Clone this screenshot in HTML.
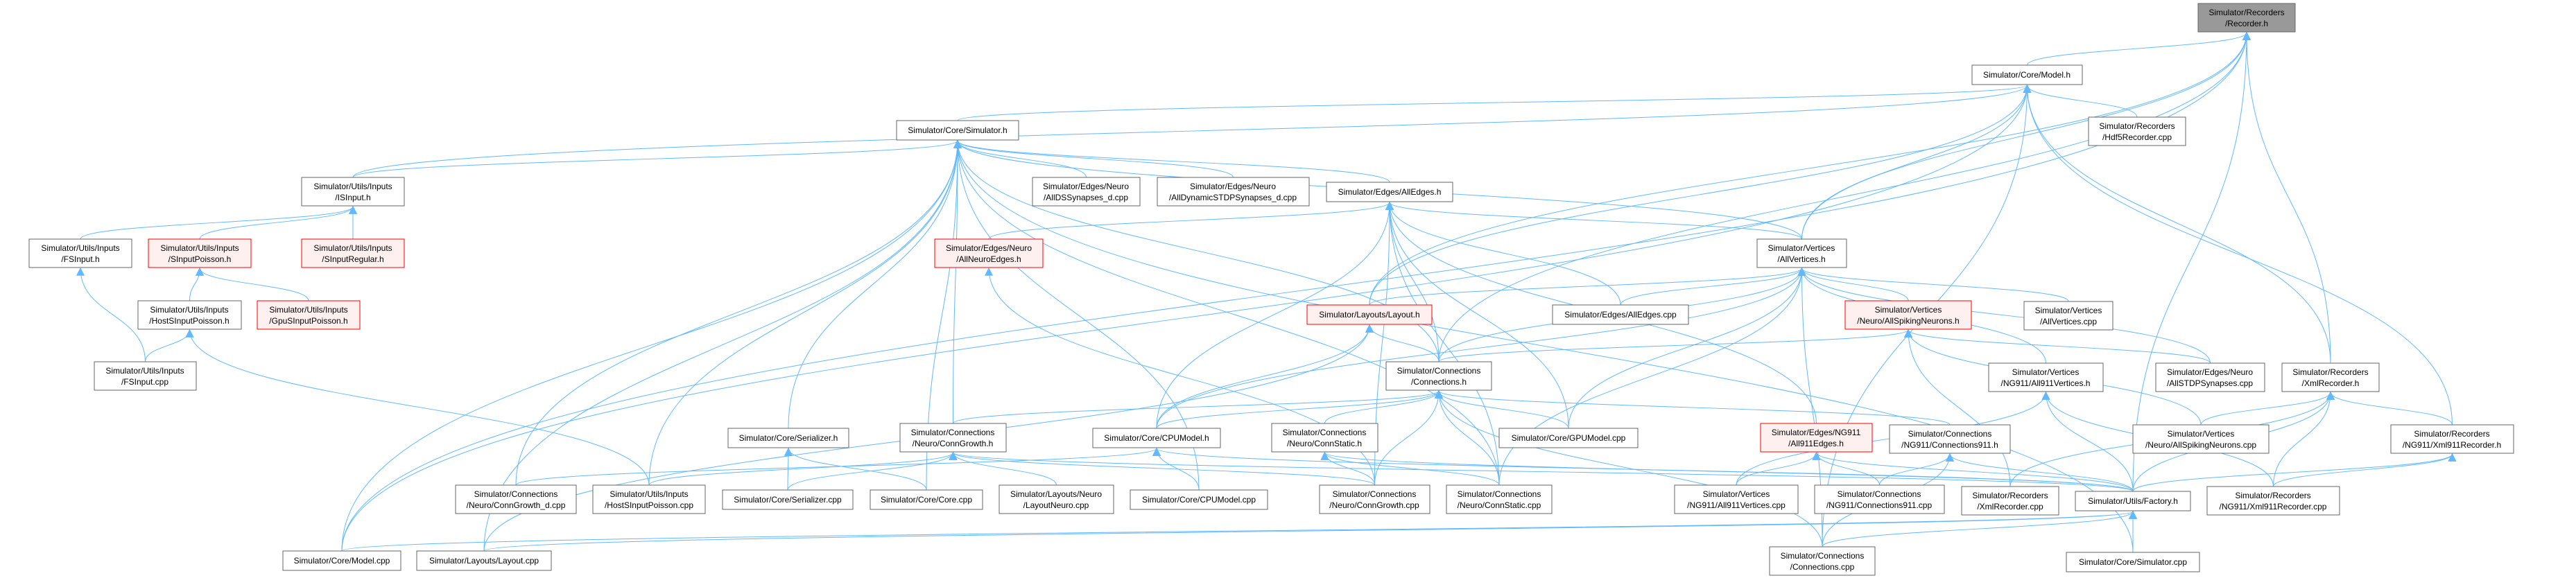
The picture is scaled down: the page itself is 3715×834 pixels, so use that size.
<!DOCTYPE html>
<html><head><meta charset="utf-8"><style>
html,body{margin:0;padding:0;background:#fff;}
svg{display:block;}
text{font-family:"Liberation Sans",Arial,sans-serif;font-size:12px;fill:#000;}
</style></head><body>
<svg id="g" width="3715" height="834" viewBox="0 0 3715 834" xmlns="http://www.w3.org/2000/svg">
<defs><marker id="ah" viewBox="0 0 10 10" refX="9" refY="5" markerWidth="12" markerHeight="12" markerUnits="userSpaceOnUse" orient="auto"><path d="M0,0 L10,5 L0,10 z" fill="#63b8ff"/></marker></defs>
<g id="edges" fill="none" stroke="#63b8ff" stroke-width="1"></g>
<g id="nodes">
<rect x="3170" y="5" width="140" height="41" fill="#999" stroke="#666"/><text x="3240" y="22" text-anchor="middle">Simulator/Recorders</text><text x="3240" y="38" text-anchor="middle">/Recorder.h</text>
<rect x="2844" y="94" width="159" height="28" fill="#fff" stroke="#666"/><text x="2923" y="112" text-anchor="middle">Simulator/Core/Model.h</text>
<rect x="3012" y="169" width="140" height="41" fill="#fff" stroke="#666"/><text x="3082" y="186" text-anchor="middle">Simulator/Recorders</text><text x="3082" y="202" text-anchor="middle">/Hdf5Recorder.cpp</text>
<rect x="1293" y="174" width="176" height="28" fill="#fff" stroke="#666"/><text x="1381" y="192" text-anchor="middle">Simulator/Core/Simulator.h</text>
<rect x="435" y="256" width="148" height="41" fill="#fff" stroke="#666"/><text x="509" y="273" text-anchor="middle">Simulator/Utils/Inputs</text><text x="509" y="289" text-anchor="middle">/ISInput.h</text>
<rect x="1489" y="256" width="155" height="41" fill="#fff" stroke="#666"/><text x="1566" y="273" text-anchor="middle">Simulator/Edges/Neuro</text><text x="1566" y="289" text-anchor="middle">/AllDSSynapses_d.cpp</text>
<rect x="1669" y="256" width="219" height="41" fill="#fff" stroke="#666"/><text x="1778" y="273" text-anchor="middle">Simulator/Edges/Neuro</text><text x="1778" y="289" text-anchor="middle">/AllDynamicSTDPSynapses_d.cpp</text>
<rect x="1913" y="263" width="182" height="28" fill="#fff" stroke="#666"/><text x="2004" y="281" text-anchor="middle">Simulator/Edges/AllEdges.h</text>
<rect x="42" y="345" width="148" height="41" fill="#fff" stroke="#666"/><text x="116" y="362" text-anchor="middle">Simulator/Utils/Inputs</text><text x="116" y="378" text-anchor="middle">/FSInput.h</text>
<rect x="214" y="345" width="148" height="41" fill="#fff0f0" stroke="#f00"/><text x="288" y="362" text-anchor="middle">Simulator/Utils/Inputs</text><text x="288" y="378" text-anchor="middle">/SInputPoisson.h</text>
<rect x="435" y="345" width="148" height="41" fill="#fff0f0" stroke="#f00"/><text x="509" y="362" text-anchor="middle">Simulator/Utils/Inputs</text><text x="509" y="378" text-anchor="middle">/SInputRegular.h</text>
<rect x="1348" y="345" width="156" height="41" fill="#fff0f0" stroke="#f00"/><text x="1426" y="362" text-anchor="middle">Simulator/Edges/Neuro</text><text x="1426" y="378" text-anchor="middle">/AllNeuroEdges.h</text>
<rect x="2534" y="345" width="129" height="41" fill="#fff" stroke="#666"/><text x="2598" y="362" text-anchor="middle">Simulator/Vertices</text><text x="2598" y="378" text-anchor="middle">/AllVertices.h</text>
<rect x="199" y="434" width="149" height="41" fill="#fff" stroke="#666"/><text x="273" y="451" text-anchor="middle">Simulator/Utils/Inputs</text><text x="273" y="467" text-anchor="middle">/HostSInputPoisson.h</text>
<rect x="371" y="434" width="148" height="41" fill="#fff0f0" stroke="#f00"/><text x="445" y="451" text-anchor="middle">Simulator/Utils/Inputs</text><text x="445" y="467" text-anchor="middle">/GpuSInputPoisson.h</text>
<rect x="1885" y="440" width="180" height="28" fill="#fff0f0" stroke="#f00"/><text x="1975" y="458" text-anchor="middle">Simulator/Layouts/Layout.h</text>
<rect x="2239" y="440" width="196" height="28" fill="#fff" stroke="#666"/><text x="2337" y="458" text-anchor="middle">Simulator/Edges/AllEdges.cpp</text>
<rect x="2661" y="434" width="182" height="41" fill="#fff0f0" stroke="#f00"/><text x="2752" y="451" text-anchor="middle">Simulator/Vertices</text><text x="2752" y="467" text-anchor="middle">/Neuro/AllSpikingNeurons.h</text>
<rect x="2919" y="435" width="128" height="41" fill="#fff" stroke="#666"/><text x="2983" y="452" text-anchor="middle">Simulator/Vertices</text><text x="2983" y="468" text-anchor="middle">/AllVertices.cpp</text>
<rect x="136" y="522" width="147" height="41" fill="#fff" stroke="#666"/><text x="209" y="539" text-anchor="middle">Simulator/Utils/Inputs</text><text x="209" y="555" text-anchor="middle">/FSInput.cpp</text>
<rect x="1999" y="522" width="152" height="41" fill="#fff" stroke="#666"/><text x="2075" y="539" text-anchor="middle">Simulator/Connections</text><text x="2075" y="555" text-anchor="middle">/Connections.h</text>
<rect x="2868" y="524" width="165" height="41" fill="#fff" stroke="#666"/><text x="2950" y="541" text-anchor="middle">Simulator/Vertices</text><text x="2950" y="557" text-anchor="middle">/NG911/All911Vertices.h</text>
<rect x="3109" y="524" width="157" height="41" fill="#fff" stroke="#666"/><text x="3187" y="541" text-anchor="middle">Simulator/Edges/Neuro</text><text x="3187" y="557" text-anchor="middle">/AllSTDPSynapses.cpp</text>
<rect x="3291" y="524" width="140" height="41" fill="#fff" stroke="#666"/><text x="3361" y="541" text-anchor="middle">Simulator/Recorders</text><text x="3361" y="557" text-anchor="middle">/XmlRecorder.h</text>
<rect x="1050" y="618" width="174" height="28" fill="#fff" stroke="#666"/><text x="1137" y="636" text-anchor="middle">Simulator/Core/Serializer.h</text>
<rect x="1298" y="611" width="153" height="41" fill="#fff" stroke="#666"/><text x="1374" y="628" text-anchor="middle">Simulator/Connections</text><text x="1374" y="644" text-anchor="middle">/Neuro/ConnGrowth.h</text>
<rect x="1576" y="618" width="184" height="28" fill="#fff" stroke="#666"/><text x="1668" y="636" text-anchor="middle">Simulator/Core/CPUModel.h</text>
<rect x="1834" y="611" width="153" height="41" fill="#fff" stroke="#666"/><text x="1910" y="628" text-anchor="middle">Simulator/Connections</text><text x="1910" y="644" text-anchor="middle">/Neuro/ConnStatic.h</text>
<rect x="2162" y="618" width="200" height="28" fill="#fff" stroke="#666"/><text x="2262" y="636" text-anchor="middle">Simulator/Core/GPUModel.cpp</text>
<rect x="2539" y="611" width="161" height="41" fill="#fff0f0" stroke="#f00"/><text x="2619" y="628" text-anchor="middle">Simulator/Edges/NG911</text><text x="2619" y="644" text-anchor="middle">/All911Edges.h</text>
<rect x="2725" y="613" width="174" height="41" fill="#fff" stroke="#666"/><text x="2812" y="630" text-anchor="middle">Simulator/Connections</text><text x="2812" y="646" text-anchor="middle">/NG911/Connections911.h</text>
<rect x="3076" y="613" width="196" height="41" fill="#fff" stroke="#666"/><text x="3174" y="630" text-anchor="middle">Simulator/Vertices</text><text x="3174" y="646" text-anchor="middle">/Neuro/AllSpikingNeurons.cpp</text>
<rect x="3448" y="613" width="177" height="41" fill="#fff" stroke="#666"/><text x="3536" y="630" text-anchor="middle">Simulator/Recorders</text><text x="3536" y="646" text-anchor="middle">/NG911/Xml911Recorder.h</text>
<rect x="657" y="700" width="174" height="41" fill="#fff" stroke="#666"/><text x="744" y="717" text-anchor="middle">Simulator/Connections</text><text x="744" y="733" text-anchor="middle">/Neuro/ConnGrowth_d.cpp</text>
<rect x="855" y="700" width="162" height="41" fill="#fff" stroke="#666"/><text x="936" y="717" text-anchor="middle">Simulator/Utils/Inputs</text><text x="936" y="733" text-anchor="middle">/HostSInputPoisson.cpp</text>
<rect x="1042" y="707" width="188" height="28" fill="#fff" stroke="#666"/><text x="1136" y="725" text-anchor="middle">Simulator/Core/Serializer.cpp</text>
<rect x="1255" y="707" width="162" height="28" fill="#fff" stroke="#666"/><text x="1336" y="725" text-anchor="middle">Simulator/Core/Core.cpp</text>
<rect x="1441" y="700" width="165" height="41" fill="#fff" stroke="#666"/><text x="1523" y="717" text-anchor="middle">Simulator/Layouts/Neuro</text><text x="1523" y="733" text-anchor="middle">/LayoutNeuro.cpp</text>
<rect x="1630" y="707" width="198" height="28" fill="#fff" stroke="#666"/><text x="1729" y="725" text-anchor="middle">Simulator/Core/CPUModel.cpp</text>
<rect x="1903" y="700" width="159" height="41" fill="#fff" stroke="#666"/><text x="1982" y="717" text-anchor="middle">Simulator/Connections</text><text x="1982" y="733" text-anchor="middle">/Neuro/ConnGrowth.cpp</text>
<rect x="2086" y="700" width="152" height="41" fill="#fff" stroke="#666"/><text x="2162" y="717" text-anchor="middle">Simulator/Connections</text><text x="2162" y="733" text-anchor="middle">/Neuro/ConnStatic.cpp</text>
<rect x="2415" y="700" width="178" height="41" fill="#fff" stroke="#666"/><text x="2504" y="717" text-anchor="middle">Simulator/Vertices</text><text x="2504" y="733" text-anchor="middle">/NG911/All911Vertices.cpp</text>
<rect x="2617" y="700" width="187" height="41" fill="#fff" stroke="#666"/><text x="2710" y="717" text-anchor="middle">Simulator/Connections</text><text x="2710" y="733" text-anchor="middle">/NG911/Connections911.cpp</text>
<rect x="2829" y="702" width="140" height="41" fill="#fff" stroke="#666"/><text x="2899" y="719" text-anchor="middle">Simulator/Recorders</text><text x="2899" y="735" text-anchor="middle">/XmlRecorder.cpp</text>
<rect x="2993" y="709" width="166" height="28" fill="#fff" stroke="#666"/><text x="3076" y="727" text-anchor="middle">Simulator/Utils/Factory.h</text>
<rect x="3183" y="702" width="191" height="41" fill="#fff" stroke="#666"/><text x="3278" y="719" text-anchor="middle">Simulator/Recorders</text><text x="3278" y="735" text-anchor="middle">/NG911/Xml911Recorder.cpp</text>
<rect x="408" y="795" width="170" height="28" fill="#fff" stroke="#666"/><text x="493" y="813" text-anchor="middle">Simulator/Core/Model.cpp</text>
<rect x="601" y="795" width="194" height="28" fill="#fff" stroke="#666"/><text x="698" y="813" text-anchor="middle">Simulator/Layouts/Layout.cpp</text>
<rect x="2552" y="789" width="152" height="41" fill="#fff" stroke="#666"/><text x="2628" y="806" text-anchor="middle">Simulator/Connections</text><text x="2628" y="822" text-anchor="middle">/Connections.cpp</text>
<rect x="2980" y="797" width="192" height="28" fill="#fff" stroke="#666"/><text x="3076" y="815" text-anchor="middle">Simulator/Core/Simulator.cpp</text>
</g>
</svg>
<script>
var N={rec:[3170,5,140,41],model:[2844,94,159,28],hdf5:[3012,169,140,41],sim:[1293,174,176,28],isinput:[435,256,148,41],allds:[1489,256,155,41],alldyn:[1669,256,219,41],alledges:[1913,263,182,28],fsinputh:[42,345,148,41],sinpoisson:[214,345,148,41],sinreg:[435,345,148,41],neuroedges:[1348,345,156,41],allvert:[2534,345,129,41],hostsinh:[199,434,149,41],gpusin:[371,434,148,41],layouth:[1885,440,180,28],alledgescpp:[2239,440,196,28],spiking:[2661,434,182,41],allvertcpp:[2919,435,128,41],fsinputcpp:[136,522,147,41],connh:[1999,522,152,41],all911vh:[2868,524,165,41],stdp:[3109,524,157,41],xmlrech:[3291,524,140,41],serh:[1050,618,174,28],conngrowthh:[1298,611,153,41],cpumodelh:[1576,618,184,28],connstatich:[1834,611,153,41],gpumodelcpp:[2162,618,200,28],all911edges:[2539,611,161,41],conn911h:[2725,613,174,41],spikingcpp:[3076,613,196,41],xml911h:[3448,613,177,41],conngrowthd:[657,700,174,41],hostsincpp:[855,700,162,41],sercpp:[1042,707,188,28],corecpp:[1255,707,162,28],layoutneuro:[1441,700,165,41],cpumodelcpp:[1630,707,198,28],conngrowthcpp:[1903,700,159,41],connstaticcpp:[2086,700,152,41],all911vcpp:[2415,700,178,41],conn911cpp:[2617,700,187,41],xmlreccpp:[2829,702,140,41],factory:[2993,709,166,28],xml911cpp:[3183,702,191,41],modelcpp:[408,795,170,28],layoutcpp:[601,795,194,28],conncpp:[2552,789,152,41],simcpp:[2980,797,192,28]};
var E="model>rec allvert>rec modelcpp>rec xmlrech>rec factory>rec connh>rec layouth>rec hdf5>model sim>model isinput>model allvert>model modelcpp>model xmlrech>model xml911h>model conncpp>model layouth>model isinput>sim allds>sim alldyn>sim alledges>sim allvert>sim serh>sim conngrowthh>sim connh>sim modelcpp>sim layoutcpp>sim conngrowthd>sim hostsincpp>sim connstaticcpp>sim cpumodelcpp>sim simcpp>sim corecpp>sim fsinputh>isinput sinpoisson>isinput sinreg>isinput hostsinh>sinpoisson gpusin>sinpoisson fsinputcpp>fsinputh fsinputcpp>hostsinh hostsincpp>hostsinh neuroedges>alledges allvert>alledges alledgescpp>alledges connh>alledges cpumodelh>alledges gpumodelcpp>alledges all911edges>alledges conngrowthcpp>alledges connstaticcpp>alledges conngrowthcpp>neuroedges layouth>allvert alledgescpp>allvert spiking>allvert allvertcpp>allvert connh>allvert all911vh>allvert stdp>allvert gpumodelcpp>allvert cpumodelh>allvert connstaticcpp>allvert conncpp>allvert connh>layouth cpumodelh>layouth layoutcpp>layouth stdp>spiking spikingcpp>spiking xmlreccpp>spiking connh>spiking conngrowthh>connh connstatich>connh gpumodelcpp>connh conn911h>connh cpumodelh>connh conncpp>connh conngrowthcpp>connh connstaticcpp>connh all911vcpp>all911vh factory>all911vh xml911cpp>all911vh spikingcpp>xmlrech xmlreccpp>xmlrech factory>xmlrech xml911h>xmlrech xml911cpp>xmlrech xml911cpp>xml911h factory>xml911h sercpp>serh corecpp>serh hostsincpp>conngrowthh sercpp>conngrowthh layoutneuro>conngrowthh conngrowthcpp>conngrowthh factory>conngrowthh cpumodelcpp>cpumodelh factory>cpumodelh conngrowthd>cpumodelh connstaticcpp>connstatich factory>connstatich conngrowthcpp>connstatich all911vcpp>all911edges conn911cpp>all911edges factory>all911edges conn911cpp>conn911h factory>conn911h conncpp>conn911h simcpp>factory modelcpp>factory conncpp>factory layoutcpp>factory".split(" ");
var g=document.getElementById("edges"),s="";
E.forEach(function(e){var p=e.split(">"),c=N[p[0]],t=N[p[1]];if(!c||!t)return;
var cx=c[0]+c[2]/2,cy=c[1],tx=t[0]+t[2]/2,ty=t[1]+t[3],d;
if(c[1]>=t[1]+t[3]-2){var m=(cy+ty)/2;d="M"+cx+","+cy+" C"+cx+","+m+" "+tx+","+m+" "+tx+","+(ty+1);}
else{var sx=cx<tx?c[0]+c[2]:c[0];var ex=cx<tx?t[0]:t[0]+t[2];var ey=t[1]+t[3]/2;var sy=c[1]+c[3]/2;var mx=(sx+ex)/2;d="M"+sx+","+sy+" C"+mx+","+sy+" "+mx+","+ey+" "+ex+","+ey;}
s+='<path d="'+d+'" marker-end="url(#ah)"/>';});
g.innerHTML=s;
</script>
</body></html>
